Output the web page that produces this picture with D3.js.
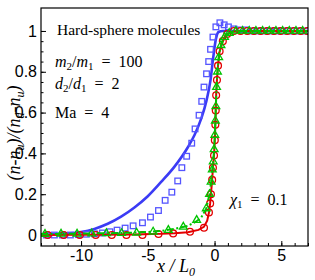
<!DOCTYPE html>
<html>
<head>
<meta charset="utf-8">
<script src="https://cdn.jsdelivr.net/npm/d3@7"></script>
<style>
  body { margin: 0; background: #fff; }
  svg { font-family: "Liberation Serif", "DejaVu Serif", serif; }
  .frame { fill: none; stroke: #000; stroke-width: 1.2; }
  .tick line { stroke: #000; }
  .tick text { font-size: 16px; fill: #000; }
</style>
</head>
<body>
<div id="chart"></div>
<script>
// ticks
const xTicks = [-10, -5, 0, 5];
const yTicks = [0, 0.2, 0.4, 0.6, 0.8, 1];
const yTickLabels = ['0', '0.2', '0.4', '0.6', '0.8', '1'];

// blue: solid line + squares
const blueLine = [
  [-13, 0.002], [-12, 0.004], [-11, 0.008], [-10, 0.015], [-9, 0.03], [-8, 0.055],
  [-7, 0.09], [-6, 0.135], [-5, 0.19], [-4, 0.26], [-3, 0.335], [-2, 0.43], [-1.5, 0.49],
  [-1, 0.57], [-0.6, 0.66], [-0.3, 0.76], [-0.1, 0.87], [0.1, 0.96], [0.3, 0.995],
  [0.6, 1.0], [7, 1.0]
];
const blueSquares = [
  [-12.6, 0], [-12, 0], [-11.4, 0], [-10.8, 0], [-10.2, 0.002], [-9.6, 0.004], [-9, 0.006],
  [-8.4, 0.01], [-7.84, 0.016], [-7.3, 0.024], [-6.7, 0.034], [-6.1, 0.045], [-5.4, 0.06],
  [-4.8, 0.088], [-4.2, 0.12], [-3.7, 0.17], [-3.2, 0.21], [-2.76, 0.265], [-2.45, 0.33],
  [-2.09, 0.386], [-1.71, 0.45], [-1.46, 0.52], [-1.16, 0.587], [-0.96, 0.655], [-0.79, 0.725],
  [-0.6, 0.79], [-0.44, 0.85], [-0.3, 0.91], [-0.12, 0.97], [0.1, 1.02], [0.4, 1.04],
  [0.72, 1.03], [1.04, 1.02], [1.45, 1.01], [1.9, 1.005], [2.35, 1.005], [2.8, 1.0],
  [3.25, 1.0], [3.7, 1.0], [4.15, 1.0], [4.6, 1.0], [5.05, 1.0], [5.5, 1.0], [5.95, 1.0],
  [6.4, 1.0], [6.85, 1.0]
];

// red: solid line + circles
const redLine = [
  [-13, 0], [-10, 0.001], [-6, 0.003], [-4, 0.006], [-3, 0.009], [-2, 0.014], [-1.2, 0.025],
  [-0.8, 0.04], [-0.55, 0.07], [-0.42, 0.11], [-0.33, 0.155], [-0.27, 0.2], [-0.18, 0.27],
  [-0.12, 0.33], [-0.04, 0.39], [0.02, 0.465], [0.06, 0.54], [0.09, 0.61], [0.12, 0.685],
  [0.18, 0.76], [0.26, 0.83], [0.38, 0.9], [0.62, 0.95], [0.95, 0.985], [1.4, 0.997],
  [2, 1], [7, 1]
];
const redCircles = [
  [-12.5, 0], [-11.3, 0], [-10.1, 0], [-8.9, 0], [-7.7, 0], [-6.6, 0], [-5.4, 0],
  [-4.2, 0.005], [-3.1, 0.008], [-1.84, 0.016], [-0.79, 0.036], [-0.42, 0.11],
  [-0.33, 0.155], [-0.27, 0.2], [-0.18, 0.27], [-0.12, 0.33], [-0.04, 0.39], [0.02, 0.465],
  [0.06, 0.54], [0.09, 0.61], [0.12, 0.685], [0.18, 0.76], [0.26, 0.83], [0.38, 0.9],
  [0.62, 0.95], [0.95, 0.985], [1.45, 1], [1.95, 1], [2.45, 1], [2.95, 1], [3.45, 1],
  [3.95, 1], [4.45, 1], [4.95, 1], [5.45, 1], [5.95, 1], [6.45, 1], [6.95, 1]
];

// green: dash-dot line + triangles
const greenLine = [
  [-13, 0.005], [-11, 0.006], [-9, 0.008], [-7, 0.01], [-6, 0.012], [-5, 0.015], [-4, 0.02],
  [-3, 0.03], [-2, 0.045], [-1.4, 0.065], [-1, 0.085], [-0.62, 0.13], [-0.38, 0.2],
  [-0.26, 0.26], [-0.17, 0.32], [-0.1, 0.36], [-0.03, 0.42], [0.02, 0.49], [0.06, 0.56],
  [0.1, 0.63], [0.15, 0.725], [0.22, 0.8], [0.31, 0.87], [0.48, 0.93], [0.75, 0.97],
  [1.1, 0.99], [1.6, 1], [7, 1]
];
const greenTriangles = [
  [-12.7, 0.005], [-11.5, 0.006], [-10.3, 0.006], [-9.2, 0.007], [-8.1, 0.008], [-6.96, 0.009],
  [-5.84, 0.011], [-4.6, 0.016], [-3.46, 0.024], [-2.34, 0.04], [-1.34, 0.073], [-0.62, 0.13],
  [-0.38, 0.2], [-0.26, 0.26], [-0.17, 0.32], [-0.1, 0.36], [-0.03, 0.42], [0.02, 0.49],
  [0.06, 0.56], [0.1, 0.63], [0.15, 0.725], [0.22, 0.8], [0.31, 0.87], [0.48, 0.93],
  [0.75, 0.97], [1.1, 0.99], [1.6, 1], [2.1, 1], [2.6, 1], [3.1, 1], [3.6, 1], [4.1, 1],
  [4.6, 1], [5.1, 1], [5.6, 1], [6.1, 1], [6.6, 1]
];

const width = 315, height = 280;
const m = {left: 41, right: 7, top: 8, bottom: 34};

const svg = d3.select('#chart')
  .append('svg')
    .attr('width', width)
    .attr('height', height);

const x = d3.scaleLinear().domain([-13, 7]).range([m.left, width - m.right]);
const y = d3.scaleLinear().domain([-0.0538, 1.1125]).range([height - m.bottom, m.top]);

const plotW = width - m.left - m.right;
const plotH = height - m.top - m.bottom;

// inward ticks, minor first then major
svg.append('g')
  .attr('transform', `translate(0,${height - m.bottom})`)
  .call(d3.axisTop(x).tickValues(d3.range(-13, 8, 1)).tickSize(3).tickFormat(''))
  .call(g => g.select('.domain').remove());
svg.append('g')
  .attr('transform', `translate(0,${height - m.bottom})`)
  .call(d3.axisTop(x).tickValues(xTicks).tickSize(5).tickFormat(''))
  .call(g => g.select('.domain').remove());
svg.append('g')
  .attr('transform', `translate(0,${height - m.bottom})`)
  .call(d3.axisBottom(x).tickValues(xTicks).tickSize(0).tickPadding(4).tickFormat(d => d))
  .call(g => g.select('.domain').remove());

svg.append('g')
  .attr('transform', `translate(${m.left},0)`)
  .call(d3.axisRight(y).tickValues(d3.range(0, 21).map(i => i * 0.05).filter(v => v <= 1.1)).tickSize(2.5).tickFormat(''))
  .call(g => g.select('.domain').remove());
svg.append('g')
  .attr('transform', `translate(${m.left},0)`)
  .call(d3.axisRight(y).tickValues(yTicks).tickSize(5).tickFormat(''))
  .call(g => g.select('.domain').remove());
svg.append('g')
  .attr('transform', `translate(${m.left},0)`)
  .call(d3.axisLeft(y).tickValues(yTicks).tickSize(0).tickPadding(4).tickFormat((d, i) => yTickLabels[i]))
  .call(g => g.select('.domain').remove());

const plot = svg.append('g');
plot.append('clipPath').attr('id', 'clip')
  .append('rect').attr('x', m.left).attr('y', m.top).attr('width', plotW).attr('height', plotH);
const inner = plot.append('g').attr('clip-path', 'url(#clip)');

const line = d3.line().x(d => x(d[0])).y(d => y(d[1]));

const blue = '#3b3bf5', red = '#e30000', green = '#00c400';

inner.append('path').datum(blueLine)
  .attr('d', line.curve(d3.curveMonotoneX)).attr('fill', 'none').attr('stroke', blue).attr('stroke-width', 2.6);
line.curve(d3.curveLinear);
inner.selectAll('.sq').data(blueSquares).enter()
  .append('rect')
    .attr('class', 'sq')
    .attr('x', d => x(d[0]) - 2.8).attr('y', d => y(d[1]) - 2.8)
    .attr('width', 5.6).attr('height', 5.6)
    .attr('fill', 'none').attr('stroke', '#5555ff').attr('stroke-width', 1.3);

inner.append('path').datum(redLine)
  .attr('d', line)
  .attr('fill', 'none').attr('stroke', red).attr('stroke-width', 2);
inner.selectAll('.circ').data(redCircles).enter()
  .append('circle')
    .attr('class', 'circ')
    .attr('cx', d => x(d[0])).attr('cy', d => y(d[1])).attr('r', 3.4)
    .attr('fill', 'none').attr('stroke', red).attr('stroke-width', 1.3);

inner.append('path').datum(greenLine)
  .attr('d', line)
  .attr('fill', 'none').attr('stroke', green).attr('stroke-width', 2)
  .attr('stroke-dasharray', '7,2.5,2,2.5');
inner.selectAll('.tri').data(greenTriangles).enter()
  .append('path')
    .attr('class', 'tri')
    .attr('transform', d => `translate(${x(d[0])},${y(d[1])})`)
    .attr('d', d3.symbol(d3.symbolTriangle, 26))
    .attr('fill', 'none').attr('stroke', green).attr('stroke-width', 1.3);

// frame
svg.append('rect').attr('class', 'frame')
  .attr('x', m.left).attr('y', m.top).attr('width', plotW).attr('height', plotH);

// annotations
const sp = '\u2002';
const note = svg.append('g').attr('font-size', 16).attr('fill', '#000');
note.append('text').attr('x', 57).attr('y', 35).attr('font-size', 15.5).text('Hard-sphere molecules');

const t1 = note.append('text').attr('x', 55).attr('y', 67);
t1.append('tspan').attr('font-style', 'italic').text('m');
t1.append('tspan').attr('font-size', 11).attr('dy', 3).text('2');
t1.append('tspan').attr('dy', -3).text('/');
t1.append('tspan').attr('font-style', 'italic').text('m');
t1.append('tspan').attr('font-size', 11).attr('dy', 3).text('1');
t1.append('tspan').attr('dy', -3).text(sp + '=' + sp + '100');

const t2 = note.append('text').attr('x', 55).attr('y', 89);
t2.append('tspan').attr('font-style', 'italic').text('d');
t2.append('tspan').attr('font-size', 11).attr('dy', 3).text('2');
t2.append('tspan').attr('dy', -3).text('/');
t2.append('tspan').attr('font-style', 'italic').text('d');
t2.append('tspan').attr('font-size', 11).attr('dy', 3).text('1');
t2.append('tspan').attr('dy', -3).text(sp + '=' + sp + '2');

note.append('text').attr('x', 55).attr('y', 118).text('Ma' + sp + '=' + sp + '4');

const t3 = note.append('text').attr('x', 230).attr('y', 205);
t3.append('tspan').attr('font-style', 'italic').text('χ');
t3.append('tspan').attr('font-size', 11).attr('dy', 3).text('1');
t3.append('tspan').attr('dy', -3).text(sp + '=' + sp + '0.1');

// axis titles
const xt = svg.append('text').attr('x', 176).attr('y', 272)
  .attr('text-anchor', 'middle').attr('font-size', 18).attr('font-style', 'italic');
xt.append('tspan').text('x / L');
xt.append('tspan').attr('font-size', 12).attr('dy', 4).text('0');

const yt = svg.append('text')
  .attr('transform', 'translate(20,133) rotate(-90)')
  .attr('text-anchor', 'middle').attr('font-size', 18).attr('font-style', 'italic');
yt.append('tspan').text('(n-n');
yt.append('tspan').attr('font-size', 12).attr('dy', 4).text('u');
yt.append('tspan').attr('dy', -4).text(')/(n');
yt.append('tspan').attr('font-size', 12).attr('dy', 4).text('d');
yt.append('tspan').attr('dy', -4).text('-n');
yt.append('tspan').attr('font-size', 12).attr('dy', 4).text('u');
yt.append('tspan').attr('dy', -4).text(')');
</script>
</body>
</html>
